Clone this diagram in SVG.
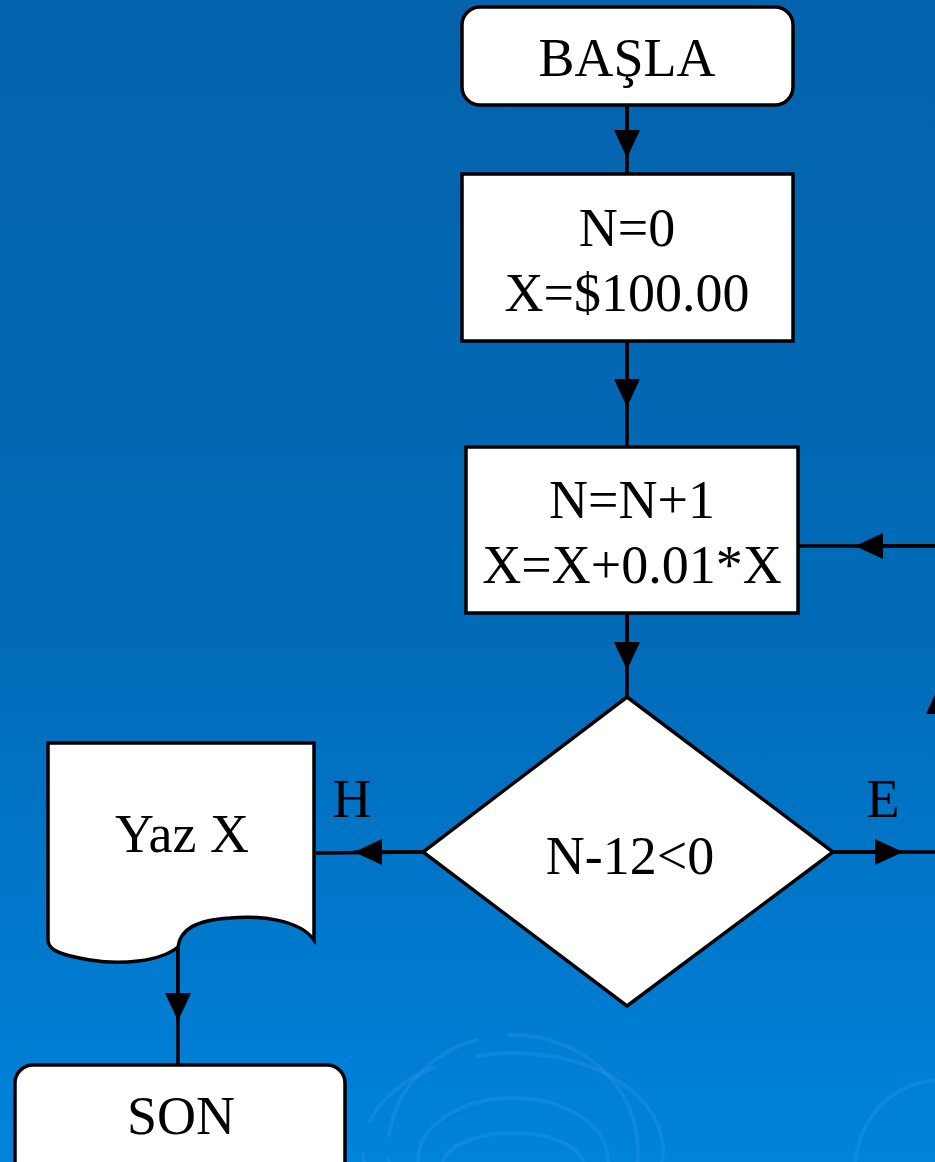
<svg xmlns="http://www.w3.org/2000/svg" width="935" height="1162" viewBox="0 0 935 1162">
<defs>
<linearGradient id="bg" x1="0" y1="0" x2="0" y2="1">
<stop offset="0" stop-color="#0563ad"/>
<stop offset="0.55" stop-color="#016bb8"/>
<stop offset="1" stop-color="#0083dc"/>
</linearGradient>
<marker id="ah" viewBox="0 0 28 26" refX="28" refY="13" markerWidth="28" markerHeight="26" markerUnits="userSpaceOnUse" orient="auto">
<path d="M0,0 L28,13 L0,26 Z" fill="#000"/>
</marker>
<style>
.box{fill:#fff;stroke:#000;stroke-width:3.5}
.t{font-family:"Liberation Serif","Times New Roman",serif;font-size:54px;fill:#000;text-anchor:middle}
.c{fill:none;stroke:#000;stroke-width:3.5}
.rip{fill:none;stroke:#2b95e8;stroke-width:4;opacity:0.35}
</style>
</defs>
<rect width="935" height="1162" fill="url(#bg)"/>
<g id="ripples">
<ellipse class="rip" cx="513" cy="1150" rx="125" ry="115" stroke-dasharray="140 30 200 20"/>
<ellipse class="rip" cx="513" cy="1150" rx="150" ry="97" stroke-dasharray="90 40 260 30"/>
<ellipse class="rip" cx="513" cy="1160" rx="95" ry="62" stroke="#0a6cbc"/>
<ellipse class="rip" cx="513" cy="1165" rx="70" ry="32"/>
<ellipse class="rip" cx="940" cy="1170" rx="85" ry="90"/>
</g>
<g id="connectors">
<line class="c" x1="627" y1="105" x2="627" y2="174"/>
<line class="c" x1="627" y1="105" x2="627" y2="158" marker-end="url(#ah)"/>
<line class="c" x1="627" y1="341" x2="627" y2="447"/>
<line class="c" x1="627" y1="341" x2="627" y2="407" marker-end="url(#ah)"/>
<line class="c" x1="627" y1="613" x2="627" y2="697"/>
<line class="c" x1="627" y1="613" x2="627" y2="670" marker-end="url(#ah)"/>
<line class="c" x1="423" y1="852" x2="316" y2="853"/>
<line class="c" x1="423" y1="852" x2="354" y2="852" marker-end="url(#ah)"/>
<line class="c" x1="833" y1="852" x2="935" y2="852"/>
<line class="c" x1="833" y1="852" x2="903" y2="852" marker-end="url(#ah)"/>
<line class="c" x1="940" y1="546" x2="798" y2="546"/>
<line class="c" x1="940" y1="546" x2="855" y2="546" marker-end="url(#ah)"/>
<line class="c" x1="939" y1="760" x2="939" y2="686" marker-end="url(#ah)"/>
<line class="c" x1="178" y1="947" x2="178" y2="1065"/>
<line class="c" x1="178" y1="947" x2="178" y2="1021" marker-end="url(#ah)"/>
</g>
<g id="start">
<rect class="box" x="462" y="7" width="331" height="98" rx="18"/>
<text class="t" x="627" y="76">BAŞLA</text>
</g>
<g id="init">
<rect class="box" x="462" y="174" width="331" height="167"/>
<text class="t" x="627" y="246">N=0</text>
<text class="t" x="627" y="311">X=$100.00</text>
</g>
<g id="update">
<rect class="box" x="466" y="447" width="332" height="166"/>
<text class="t" x="632" y="518">N=N+1</text>
<text class="t" x="632" y="583">X=X+0.01*X</text>
</g>
<g id="decision">
<polygon class="box" points="627,697 833,852 627,1006 423,852"/>
<text class="t" x="630" y="874">N-12&lt;0</text>
</g>
<g id="labels">
<text class="t" x="352" y="817">H</text>
<text class="t" x="883" y="817">E</text>
</g>
<g id="output">
<path class="box" d="M48,743 L314,743 L314,940 C300,920 260,915 230,918 C195,920 180,930 178,947 C160,962 120,965 90,960 C60,955 48,950 48,940 Z"/>
<text class="t" x="182" y="852">Yaz X</text>
</g>
<g id="end">
<rect class="box" x="15" y="1065" width="330" height="120" rx="18"/>
<text class="t" x="181" y="1134">SON</text>
</g>
</svg>
